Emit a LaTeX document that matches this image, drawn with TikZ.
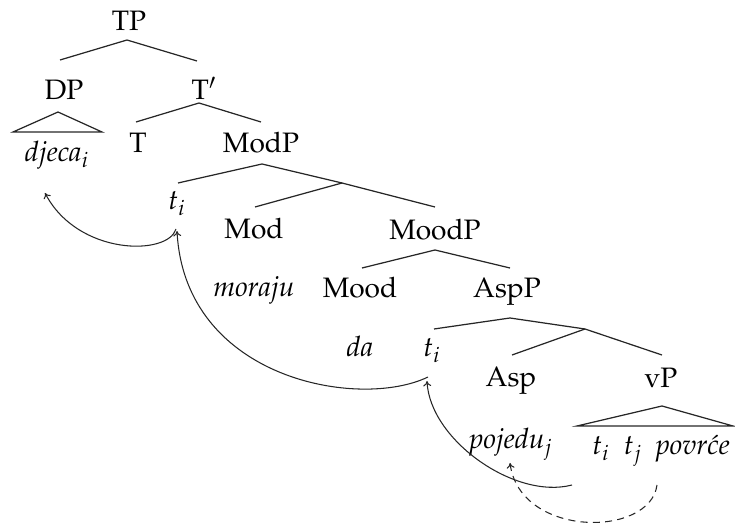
\documentclass[tikz,border=0pt]{standalone}
\usepackage[T1]{fontenc}
\usepackage{mathpazo}
\usetikzlibrary{arrows.meta}
\begin{document}
\begin{tikzpicture}[x=0.02cm,y=-0.02cm,
  lbl/.style={anchor=base,inner sep=0pt,font=\fontsize{16}{19}\selectfont},
  edge/.style={line width=0.7pt,draw=black!85},
  mv/.style={line width=0.6pt,draw=black!85,-{To[length=3pt,width=4.5pt]}},
  mvd/.style={mv,dashed,dash pattern=on 4pt off 3pt}]
\useasboundingbox (0,0) rectangle (735,523);
% labels
\node[lbl] (TP) at (129,31) {TP};
\node[lbl] (DP) at (64,100) {DP};
\node[lbl] (Tbar) at (204,100) {T$'$};
\node[lbl] (djeca) at (57,162) {\textit{djeca}$_i$};
\node[lbl] (T) at (138,153) {T};
\node[lbl] (ModP) at (261,153) {ModP};
\node[lbl] (ti1) at (177,210) {$t_i$};
\node[lbl] (Mod) at (254,239) {Mod};
\node[lbl] (MoodP) at (435,240) {MoodP};
\node[lbl] (moraju) at (254,297) {\textit{moraju}};
\node[lbl] (Mood) at (360,298) {Mood};
\node[lbl] (AspP) at (507,298) {AspP};
\node[lbl] (da) at (360,357) {\textit{da}};
\node[lbl] (ti2) at (432,357) {$t_i$};
\node[lbl] (Asp) at (511,387) {Asp};
\node[lbl] (vP) at (661,388) {vP};
\node[lbl] (pojedu) at (511,449) {\textit{pojedu}$_j$};
\node[lbl] (vPc) at (661,455) {$t_i$\ \ $t_j$\ \ \textit{povr\'ce}};
% branch points
\coordinate (tp-a) at (127,40);  \coordinate (tp-l) at (60,60);   \coordinate (tp-r) at (197,61);
\coordinate (dp-a) at (58,112);  \coordinate (dp-l) at (13,132);  \coordinate (dp-r) at (102,132);
\coordinate (tb-a) at (199,103); \coordinate (tb-l) at (136,122); \coordinate (tb-r) at (261,122);
\coordinate (mp-a) at (262,164); \coordinate (mp-l) at (178,183); \coordinate (mb) at (342,183);
\coordinate (mb-l) at (255,207); \coordinate (mb-r) at (435,207);
\coordinate (md-a) at (435,250); \coordinate (md-l) at (362,268); \coordinate (md-r) at (510,268);
\coordinate (ap-a) at (510,318); \coordinate (ap-l) at (434,329); \coordinate (ab) at (585,329);
\coordinate (ab-l) at (512,355); \coordinate (ab-r) at (662,355);
\coordinate (vp-a) at (662,406); \coordinate (vp-l) at (577,426); \coordinate (vp-r) at (733,426);
% tree edges
\draw[edge] (tp-l) -- (tp-a) -- (tp-r);
\draw[edge] (dp-l) -- (dp-a) -- (dp-r) -- cycle;
\draw[edge] (tb-l) -- (tb-a) -- (tb-r);
\draw[edge] (mp-l) -- (mp-a) -- (mb);
\draw[edge] (mb-l) -- (mb) -- (mb-r);
\draw[edge] (md-l) -- (md-a) -- (md-r);
\draw[edge] (ap-l) -- (ap-a) -- (ab);
\draw[edge] (ab-l) -- (ab) -- (ab-r);
\draw[edge] (vp-l) -- (vp-a) -- (vp-r) -- cycle;
% movement arrows
\coordinate (a1s) at (176,229); \coordinate (a1e) at (45,193);
\coordinate (a2s) at (428,377); \coordinate (a2e) at (177,231);
\coordinate (a3s) at (572,485); \coordinate (a3e) at (427,381);
\coordinate (a4s) at (657,485); \coordinate (a4e) at (510,463);
\draw[mv] (a1s) .. controls (168,256) and (78,256) .. (a1e);
\draw[mv] (a2s) .. controls (360,410) and (185,380) .. (a2e);
\draw[mv] (a3s) .. controls (515,500) and (430,440) .. (a3e);
\draw[mvd] (a4s) .. controls (650,538) and (520,538) .. (a4e);
\end{tikzpicture}
\end{document}
